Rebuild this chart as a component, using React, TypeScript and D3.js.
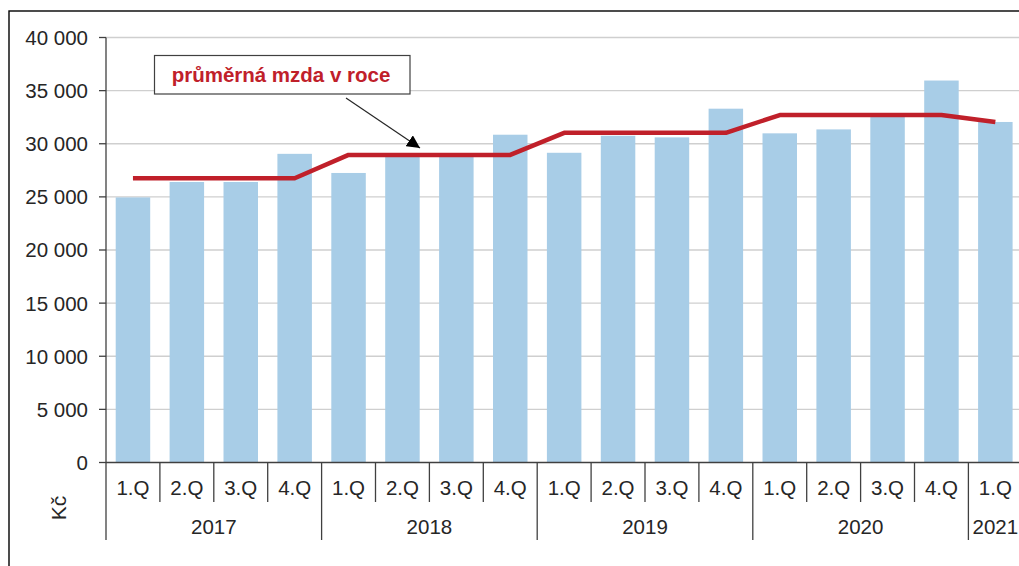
import React from "react";
import * as d3 from "d3";

const quarters = ["1.Q", "2.Q", "3.Q", "4.Q", "1.Q", "2.Q", "3.Q", "4.Q", "1.Q", "2.Q", "3.Q", "4.Q", "1.Q", "2.Q", "3.Q", "4.Q", "1.Q"];
const years = ["2017", "2018", "2019", "2020", "2021"];
const yearSpans = [4, 4, 4, 4, 1];
const wages = [24950, 26400, 26400, 29050, 27250, 29100, 28800, 30850, 29150, 30750, 30600, 33300, 30980, 31350, 32600, 35950, 32050];
const annualAvg = [26750, 26750, 26750, 26750, 28950, 28950, 28950, 28950, 31030, 31030, 31030, 31030, 32700, 32700, 32700, 32700, 32050];
const yTicks = [0, 5000, 10000, 15000, 20000, 25000, 30000, 35000, 40000];
const legendLabel = "průměrná mzda v roce";
const unitLabel = "Kč";

const W = 1019;
const H = 566;
const left = 106;
const right = 1022.3;
const top = 37.5;
const bottom = 462.5;
const FONT = "'Liberation Sans', Arial, sans-serif";
const TXT = "#262626";

const fmt = (v: number) => d3.format(",")(v).replace(/,/g, " ");

export default function App() {
  const idx = quarters.map((_, i) => i);
  const x = d3.scaleBand<number>().domain(idx).range([left, right]).paddingInner(0.36).paddingOuter(0.18);
  const step = x.step();
  const y = d3.scaleLinear().domain([0, 40000]).range([bottom, top]);
  const cx = (i: number) => (x(i) as number) + x.bandwidth() / 2;
  const line = d3.line<number>().x((_, i) => cx(i)).y((d) => y(d));

  const boundaries: number[] = [];
  for (let k = 1; k < quarters.length; k++) boundaries.push(left + k * step);
  const yearStarts: number[] = [];
  let acc = 0;
  yearSpans.forEach((s) => { yearStarts.push(acc); acc += s; });

  return (
    <svg width={W} height={H} style={{ position: "absolute", left: 0, top: 0 }} fontFamily={FONT}>
      <defs>
        <marker id="arr" viewBox="0 0 10 10" refX="10" refY="5" markerWidth="13" markerHeight="13" markerUnits="userSpaceOnUse" orient="auto">
          <path d="M0,0 L10,5 L0,10 z" fill="#000" />
        </marker>
      </defs>
      <rect x={0} y={0} width={W} height={H} fill="#fff" />
      <rect x={9} y={11} width={1040} height={600} fill="none" stroke="#000" strokeWidth={1.4} />
      {/* gridlines */}
      {yTicks.filter((t) => t > 0).map((t) => (
        <line key={t} x1={left} x2={right} y1={y(t)} y2={y(t)} stroke="#cfcfcf" strokeWidth={1.3} />
      ))}
      {/* bars */}
      {wages.map((v, i) => (
        <rect key={i} x={x(i)} y={y(v)} width={x.bandwidth()} height={y(0) - y(v)} fill="#a8cde7" />
      ))}
      {/* annual average line */}
      <path d={line(annualAvg) || ""} fill="none" stroke="#c0202a" strokeWidth={4.5} strokeLinejoin="round" />
      {/* y axis */}
      <line x1={left} x2={left} y1={top} y2={540} stroke="#404040" strokeWidth={1.3} />
      {yTicks.map((t) => (
        <g key={t}>
          <line x1={left - 7} x2={left} y1={y(t)} y2={y(t)} stroke="#404040" strokeWidth={1.3} />
          <text x={88} y={y(t)} dy="0.36em" textAnchor="end" fontSize={20.5} fill={TXT}>{fmt(t)}</text>
        </g>
      ))}
      {/* x axis */}
      <line x1={left} x2={right} y1={bottom} y2={bottom} stroke="#404040" strokeWidth={1.3} />
      {boundaries.map((b, k) => {
        const isYear = yearStarts.includes(k + 1);
        return <line key={k} x1={b} x2={b} y1={bottom} y2={isYear ? 540 : 502} stroke="#404040" strokeWidth={1.3} />;
      })}
      {quarters.map((q, i) => (
        <text key={i} x={cx(i)} y={495} textAnchor="middle" fontSize={20.5} fill={TXT}>{q}</text>
      ))}
      {years.map((yr, k) => {
        const s = yearStarts[k];
        const e = s + yearSpans[k];
        const mid = left + ((s + e) / 2) * step;
        return <text key={yr} x={mid} y={534} textAnchor="middle" fontSize={20.5} fill={TXT}>{yr}</text>;
      })}
      <text transform={`translate(66,508) rotate(-90)`} textAnchor="middle" fontSize={21} fill={TXT}>{unitLabel}</text>
      {/* annotation */}
      <line x1={346} y1={98} x2={420} y2={148} stroke="#262626" strokeWidth={1.2} markerEnd="url(#arr)" />
      <rect x={154.5} y={55.5} width={255.5} height={38.5} fill="#fff" stroke="#404040" strokeWidth={1.2} />
      <text x={281} y={81.5} textAnchor="middle" fontSize={20.5} fontWeight="bold" fill="#c0202a">{legendLabel}</text>
    </svg>
  );
}
